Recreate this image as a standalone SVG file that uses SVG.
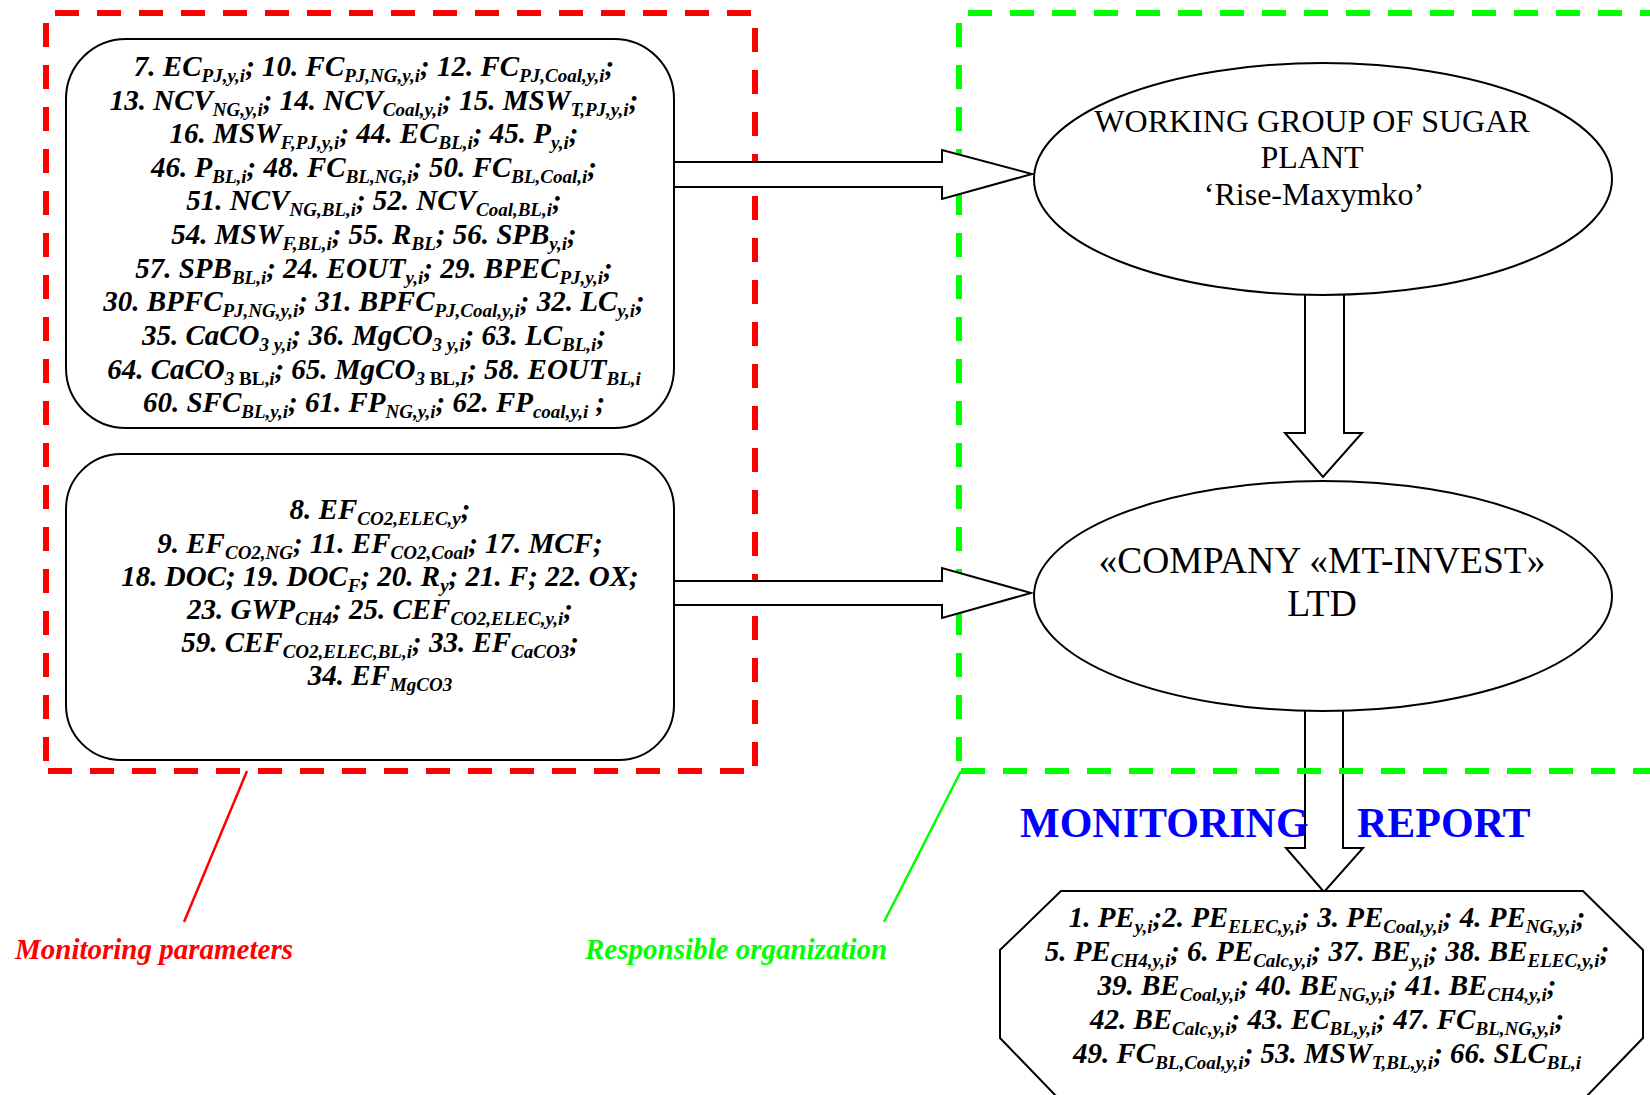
<svg xmlns="http://www.w3.org/2000/svg" width="1650" height="1095" viewBox="0 0 1650 1095">
<style>
.bg{fill:#ffffff}
.node{fill:#ffffff;stroke:#000000;stroke-width:2}
.arrow{fill:#ffffff;stroke:#000000;stroke-width:2;stroke-linejoin:miter}
.red{fill:none;stroke:#ff0000;stroke-width:6;stroke-dasharray:24 18}
.green{fill:none;stroke:#00ff00;stroke-width:6;stroke-dasharray:24 18}
.p{font-family:"Liberation Serif","Times New Roman",serif;font-weight:bold;font-style:italic;font-size:29px;text-anchor:middle;fill:#000000}
.s{font-size:19px}
.u{font-style:normal}
.org{font-family:"Liberation Serif","Times New Roman",serif;font-size:32px;text-anchor:middle;fill:#000000}
.org2{font-family:"Liberation Serif","Times New Roman",serif;font-size:37.5px;text-anchor:middle;fill:#000000}
.lab{font-family:"Liberation Serif","Times New Roman",serif;font-weight:bold;font-style:italic;font-size:29px}
.rep{font-family:"Liberation Serif","Times New Roman",serif;font-weight:bold;font-size:42px;fill:#0000ff}
</style>
<rect class="bg" x="0" y="0" width="1650" height="1095"/>

<g id="connectors-vertical-2">
<path class="arrow" d="M1305,710 V848 H1286 L1324,892 L1363,848 H1343 V710"/>
</g>

<g id="frame-monitoring-parameters">
<path class="red" d="M55,13 H755"/>
<path class="red" d="M46,23 V771"/>
<path class="red" d="M755,28 V771"/>
<path class="red" d="M48,771 H752"/>
<line x1="247" y1="771" x2="184" y2="922" stroke="#ff0000" stroke-width="2.5"/>
</g>

<g id="frame-responsible-organization">
<path class="green" d="M968,13 H1650"/>
<path class="green" d="M959,23 V771"/>
<path class="green" d="M961,771 H1650"/>
<line x1="961" y1="771" x2="884" y2="922" stroke="#00ff00" stroke-width="2.5"/>
</g>

<g id="node-params-measured">
<rect class="node" x="66" y="39" width="608" height="389" rx="60" ry="60"/>
<text class="p" x="374" y="76">7. EC<tspan class="s" dy="6">PJ,y,i</tspan><tspan dy="-6">; 10. FC</tspan><tspan class="s" dy="6">PJ,NG,y,i</tspan><tspan dy="-6">; 12. FC</tspan><tspan class="s" dy="6">PJ,Coal,y,i</tspan><tspan dy="-6">;</tspan></text>
<text class="p" x="374" y="110">13. NCV<tspan class="s" dy="6">NG,y,i</tspan><tspan dy="-6">; 14. NCV</tspan><tspan class="s" dy="6">Coal,y,i</tspan><tspan dy="-6">; 15. MSW</tspan><tspan class="s" dy="6">T,PJ,y,i</tspan><tspan dy="-6">;</tspan></text>
<text class="p" x="374" y="143">16. MSW<tspan class="s" dy="6">F,PJ,y,i</tspan><tspan dy="-6">; 44. EC</tspan><tspan class="s" dy="6">BL,i</tspan><tspan dy="-6">; 45. P</tspan><tspan class="s" dy="6">y,i</tspan><tspan dy="-6">;</tspan></text>
<text class="p" x="374" y="177">46. P<tspan class="s" dy="6">BL,i</tspan><tspan dy="-6">; 48. FC</tspan><tspan class="s" dy="6">BL,NG,i</tspan><tspan dy="-6">; 50. FC</tspan><tspan class="s" dy="6">BL,Coal,i</tspan><tspan dy="-6">;</tspan></text>
<text class="p" x="374" y="210">51. NCV<tspan class="s" dy="6">NG,BL,i</tspan><tspan dy="-6">; 52. NCV</tspan><tspan class="s" dy="6">Coal,BL,i</tspan><tspan dy="-6">;</tspan></text>
<text class="p" x="374" y="244">54. MSW<tspan class="s" dy="6">F,BL,i</tspan><tspan dy="-6">; 55. R</tspan><tspan class="s" dy="6">BL</tspan><tspan dy="-6">; 56. SPB</tspan><tspan class="s" dy="6">y,i</tspan><tspan dy="-6">;</tspan></text>
<text class="p" x="374" y="278">57. SPB<tspan class="s" dy="6">BL,i</tspan><tspan dy="-6">; 24. EOUT</tspan><tspan class="s" dy="6">y,i</tspan><tspan dy="-6">; 29. BPEC</tspan><tspan class="s" dy="6">PJ,y,i</tspan><tspan dy="-6">;</tspan></text>
<text class="p" x="374" y="311">30. BPFC<tspan class="s" dy="6">PJ,NG,y,i</tspan><tspan dy="-6">; 31. BPFC</tspan><tspan class="s" dy="6">PJ,Coal,y,i</tspan><tspan dy="-6">; 32. LC</tspan><tspan class="s" dy="6">y,i</tspan><tspan dy="-6">;</tspan></text>
<text class="p" x="374" y="345">35. CaCO<tspan class="s" dy="6">3 y,i</tspan><tspan dy="-6">; 36. MgCO</tspan><tspan class="s" dy="6">3 y,i</tspan><tspan dy="-6">; 63. LC</tspan><tspan class="s" dy="6">BL,i</tspan><tspan dy="-6">;</tspan></text>
<text class="p" x="374" y="379">64. CaCO<tspan class="s" dy="6">3 <tspan class="u">BL,</tspan>i</tspan><tspan dy="-6">;  65. MgCO</tspan><tspan class="s" dy="6">3 <tspan class="u">BL,</tspan>I</tspan><tspan dy="-6">; 58. EOUT</tspan><tspan class="s" dy="6">BL,i</tspan></text>
<text class="p" x="374" y="412">60. SFC<tspan class="s" dy="6">BL,y,i</tspan><tspan dy="-6">; 61. FP</tspan><tspan class="s" dy="6">NG,y,i</tspan><tspan dy="-6">; 62. FP</tspan><tspan class="s" dy="6">coal,y,i</tspan><tspan dy="-6"> ;</tspan></text>
</g>

<g id="node-params-default">
<rect class="node" x="66" y="454" width="608" height="306" rx="55" ry="55"/>
<text class="p" x="380" y="519">8. EF<tspan class="s" dy="6">CO2,ELEC,y</tspan><tspan dy="-6">;</tspan></text>
<text class="p" x="380" y="553">9. EF<tspan class="s" dy="6">CO2,NG</tspan><tspan dy="-6">; 11. EF</tspan><tspan class="s" dy="6">CO2,Coal</tspan><tspan dy="-6">; 17. MCF;</tspan></text>
<text class="p" x="380" y="586">18. DOC; 19. DOC<tspan class="s" dy="6">F</tspan><tspan dy="-6">; 20. R</tspan><tspan class="s" dy="6">y</tspan><tspan dy="-6">; 21. F; 22. OX;</tspan></text>
<text class="p" x="380" y="619">23. GWP<tspan class="s" dy="6">CH4</tspan><tspan dy="-6">; 25. CEF</tspan><tspan class="s" dy="6">CO2,ELEC,y,i</tspan><tspan dy="-6">;</tspan></text>
<text class="p" x="380" y="652">59. CEF<tspan class="s" dy="6">CO2,ELEC,BL,i</tspan><tspan dy="-6">; 33. EF</tspan><tspan class="s" dy="6">CaCO3</tspan><tspan dy="-6">;</tspan></text>
<text class="p" x="380" y="685">34. EF<tspan class="s" dy="6">MgCO3</tspan></text>
</g>

<g id="connectors">
<path class="arrow" d="M675,162 H942 V150 L1032,174 L942,199 V187 H675"/>
<path class="arrow" d="M675,581 H942 V568 L1031,593 L942,618 V605 H675"/>
<path class="arrow" d="M1305,295 V433 H1285 L1323,477 L1362,433 H1344 V295"/>
</g>

<g id="node-working-group">
<ellipse class="node" cx="1323" cy="179" rx="289" ry="116" fill="none"/>
<text class="org" x="1312" y="132">WORKING GROUP OF SUGAR</text>
<text class="org" x="1312" y="168">PLANT</text>
<text class="org" x="1314" y="205">‘Rise-Maxymko’</text>
</g>

<g id="node-company">
<ellipse class="node" cx="1323" cy="596" rx="289" ry="115"/>
<text class="org2" x="1322" y="573">«COMPANY «MT-INVEST»</text>
<text class="org2" x="1322" y="616">LTD</text>
</g>

<g id="label-report">
<text class="rep" y="837"><tspan x="1020">MONITORING</tspan><tspan x="1357">REPORT</tspan></text>
</g>

<g id="node-report">
<path class="node" d="M1057,1097 L1000,1038 V950 L1061,891 H1583 L1643,950 V1038 L1586,1097"/>
<text class="p" x="1327" y="927">1. PE<tspan class="s" dy="6">y,i</tspan><tspan dy="-6">;2. PE</tspan><tspan class="s" dy="6">ELEC,y,i</tspan><tspan dy="-6">; 3. PE</tspan><tspan class="s" dy="6">Coal,y,i</tspan><tspan dy="-6">; 4. PE</tspan><tspan class="s" dy="6">NG,y,i</tspan><tspan dy="-6">;</tspan></text>
<text class="p" x="1327" y="961">5. PE<tspan class="s" dy="6">CH4,y,i</tspan><tspan dy="-6">; 6. PE</tspan><tspan class="s" dy="6">Calc,y,i</tspan><tspan dy="-6">; 37. BE</tspan><tspan class="s" dy="6">y,i</tspan><tspan dy="-6">; 38. BE</tspan><tspan class="s" dy="6">ELEC,y,i</tspan><tspan dy="-6">;</tspan></text>
<text class="p" x="1327" y="995">39. BE<tspan class="s" dy="6">Coal,y,i</tspan><tspan dy="-6">; 40. BE</tspan><tspan class="s" dy="6">NG,y,i</tspan><tspan dy="-6">; 41. BE</tspan><tspan class="s" dy="6">CH4,y,i</tspan><tspan dy="-6">;</tspan></text>
<text class="p" x="1327" y="1029">42. BE<tspan class="s" dy="6">Calc,y,i</tspan><tspan dy="-6">; 43. EC</tspan><tspan class="s" dy="6">BL,y,i</tspan><tspan dy="-6">; 47. FC</tspan><tspan class="s" dy="6">BL,NG,y,i</tspan><tspan dy="-6">;</tspan></text>
<text class="p" x="1327" y="1063">49. FC<tspan class="s" dy="6">BL,Coal,y,i</tspan><tspan dy="-6">; 53. MSW</tspan><tspan class="s" dy="6">T,BL,y,i</tspan><tspan dy="-6">; 66. SLC</tspan><tspan class="s" dy="6">BL,i</tspan></text>
</g>

<g id="label-monitoring-parameters">
<text class="lab" x="15" y="959" fill="#ff0000">Monitoring parameters</text>
</g>
<g id="label-responsible-organization">
<text class="lab" x="585" y="959" fill="#00ff00">Responsible organization</text>
</g>
</svg>
